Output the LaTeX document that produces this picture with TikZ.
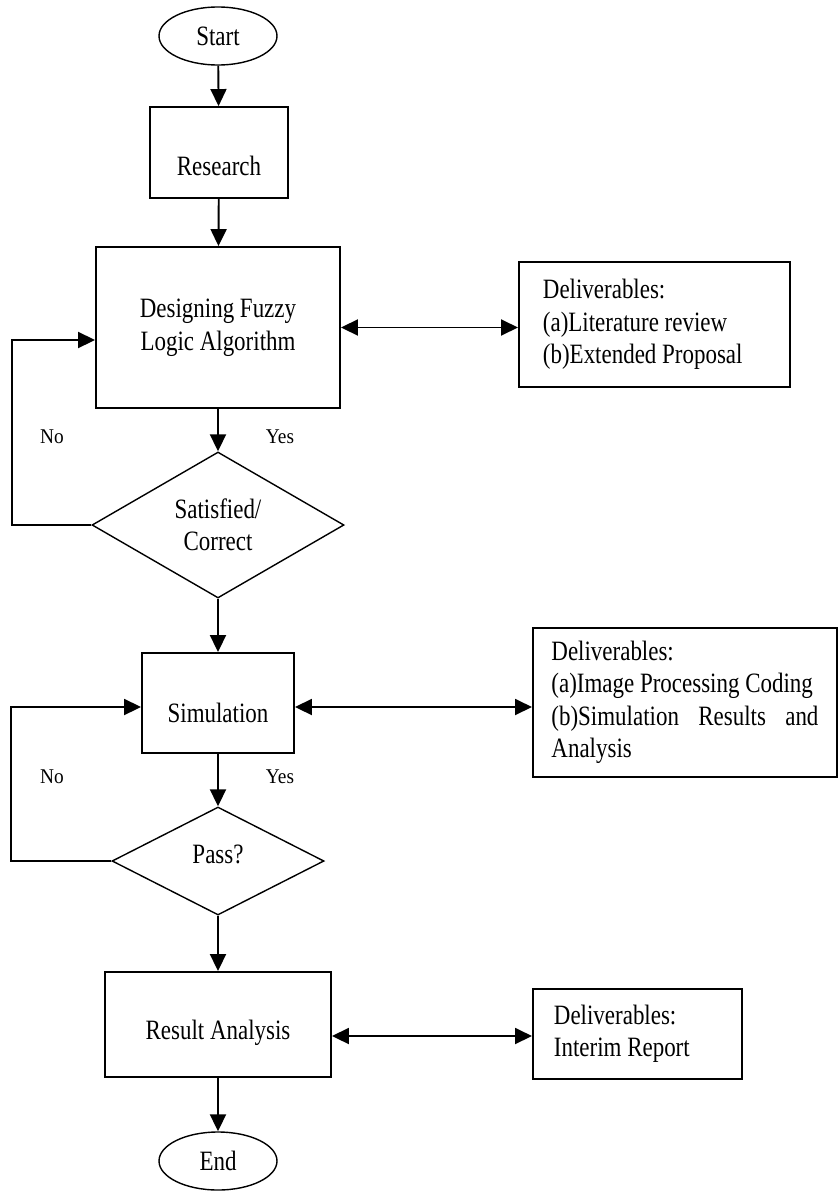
\documentclass[tikz,border=0pt]{standalone}
\usepackage{fontspec}
\setmainfont{Liberation Serif}[FakeStretch=0.82]
\newfontfamily\lblfont{Liberation Serif}[FakeStretch=0.92]
\usetikzlibrary{arrows.meta,shapes.geometric,calc}

\begin{document}
\begin{tikzpicture}[x=1pt,y=-1pt,
  every node/.style={font=\fontsize{28}{32.5}\selectfont, inner sep=0pt},
  line/.style={line width=1.9pt},
  tip/.tip={Triangle[length=17pt,width=16pt]},
  arr/.style={line, -tip},
  biarr/.style={line, tip-tip},
  term/.style={draw, line width=1.4pt, ellipse, minimum width=118pt, minimum height=58pt},
  proc/.style={draw, line, rectangle, align=center},
  decide/.style={draw, line width=1.4pt, diamond, align=center},
  dbox/.style={draw, line, rectangle, align=flush left, anchor=north west},
  lbl/.style={font=\lblfont\fontsize{21}{25}\selectfont}
]
\useasboundingbox (0,0) rectangle (838,1191);

% main column
\node[term] (start) at (218,36) {Start};
\node[proc, minimum width=138pt, minimum height=91pt, text height=45pt, text depth=0pt]
  (research) at (219,152.5) {Research};
\node[proc, minimum width=244pt, minimum height=161pt]
  (design) at (218,327.5) {Designing Fuzzy\\Logic Algorithm};
\node[decide, minimum width=252pt, minimum height=146pt]
  (dec1) at (218,525) {Satisfied/\\Correct};
\node[proc, minimum width=152pt, minimum height=100pt, text height=38pt, text depth=0pt]
  (sim) at (218,703) {Simulation};
\node[decide, minimum width=212pt, minimum height=108pt, text height=19pt, text depth=15pt]
  (pass) at (218,861) {Pass?};
\node[proc, minimum width=226pt, minimum height=105pt, text height=30pt, text depth=0pt]
  (res) at (218,1024.5) {Result Analysis};
\node[term] (end) at (218,1161) {End};

% deliverables
\node[dbox, text width=223pt, inner xsep=24pt, minimum height=125pt]
  (del1) at (518,261) {\mbox{Deliverables:}\\\mbox{(a)Literature review}\\\mbox{(b)Extended Proposal}};
\node[dbox, text width=267pt, inner xsep=18.5pt, minimum height=149pt]
  (del2) at (532,627) {\mbox{Deliverables:}\\\mbox{(a)Image Processing Coding}\\\makebox[267pt][s]{(b)Simulation Results and}\\\mbox{Analysis}};
\node[dbox, text width=167pt, inner xsep=21pt, minimum height=90pt]
  (del3) at (532,988) {\mbox{Deliverables:}\\\mbox{Interim Report}};

% branch labels
\node[lbl] (no1) at (52,437) {No};
\node[lbl] (yes1) at (280,437) {Yes};
\node[lbl] (no2) at (52,777) {No};
\node[lbl] (yes2) at (280,777) {Yes};

% flow
\draw[arr] (start) -- (research);
\draw[arr] (research) -- (design);
\draw[arr] (design) -- (dec1);
\draw[arr] (dec1) -- (sim);
\draw[arr] (sim) -- (pass);
\draw[arr] (pass) -- (res);
\draw[arr] (res) -- (end);

% feedback loops
\draw[arr] (dec1.west) -- ++(-79,0) |- ([yshift=-12.5pt]design.west);
\draw[arr] (pass.west) -- ++(-100,0) |- ([yshift=-4pt]sim.west);

% deliverable links
\draw[biarr] (design.east) -- (design.east -| del1.west);
\draw[biarr] ([yshift=-4pt]sim.east) -- ([yshift=-4pt]sim.east -| del2.west);
\draw[biarr] ([yshift=-11.5pt]res.east) -- ([yshift=-11.5pt]res.east -| del3.west);
\end{tikzpicture}
\end{document}
